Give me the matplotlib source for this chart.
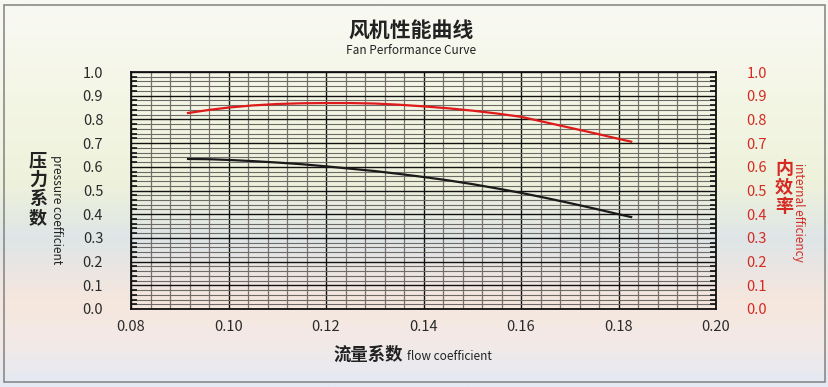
import numpy as np
import matplotlib.pyplot as plt
from matplotlib.colors import LinearSegmentedColormap
from matplotlib.patches import Rectangle

plt.rcParams['font.family'] = ['Noto Sans CJK SC', 'DejaVu Sans']

# data
flow = [0.0917, 0.096, 0.100, 0.105, 0.110, 0.115, 0.120, 0.125, 0.130, 0.135, 0.140,
        0.145, 0.150, 0.155, 0.160, 0.165, 0.170, 0.175, 0.180, 0.1826]
pressure = [0.633, 0.632, 0.629, 0.624, 0.618, 0.611, 0.602, 0.592, 0.582, 0.570, 0.557,
            0.543, 0.527, 0.509, 0.490, 0.469, 0.447, 0.424, 0.400, 0.388]
efficiency = [0.827, 0.840, 0.850, 0.859, 0.865, 0.868, 0.869, 0.869, 0.867, 0.862, 0.855,
              0.847, 0.837, 0.825, 0.811, 0.788, 0.765, 0.742, 0.718, 0.706]
xticks = [0.08, 0.10, 0.12, 0.14, 0.16, 0.18, 0.20]
yticks = [round(0.1 * i, 1) for i in range(11)]

W, H = 829, 387
fig = plt.figure(figsize=(W / 100, H / 100), dpi=100)

# background gradient
bg = fig.add_axes([0, 0, 1, 1], zorder=-10)
cmap = LinearSegmentedColormap.from_list('bg', [
    (0.0, '#f9f9f4'), (0.25, '#f4f6e5'), (0.47, '#eef2db'), (0.62, '#dfe5e7'),
    (0.78, '#f6e7dd'), (0.88, '#f3e9e6'), (1.0, '#e4eaf4')])
bg.imshow(np.linspace(0, 1, 200).reshape(-1, 1), aspect='auto', cmap=cmap,
          extent=[0, 1, 0, 1])
bg.add_patch(Rectangle((4 / W, 1 - 382 / H), 821 / W, 377 / H, fill=False,
                       ec='#8a8a8a', lw=1.2, transform=bg.transAxes))
bg.set_xlim(0, 1)
bg.set_ylim(0, 1)
bg.axis('off')

ax = fig.add_axes([131 / W, 1 - 309 / H, 585 / W, 237 / H])
ax.patch.set_alpha(0)
ax.set_xlim(0.08, 0.20)
ax.set_ylim(0, 1.0)

# grid
for v in np.arange(0.08, 0.2001, 0.004):
    major = abs(v / 0.02 - round(v / 0.02)) < 1e-6
    ax.axvline(v, color='#111111' if major else '#7a7070', lw=1.0 if major else 0.9, zorder=1)
for h in np.arange(0, 1.0001, 0.02):
    major = abs(h / 0.1 - round(h / 0.1)) < 1e-6
    ax.axhline(h, color='#111111' if major else '#6e6a66', lw=1.0 if major else 0.8, zorder=1)

ax.plot(flow, pressure, color='#1a1a1a', lw=1.6, zorder=3)
ax.plot(flow, efficiency, color='#e0191b', lw=1.6, zorder=3)

ax.set_xticks(xticks)
ax.set_xticklabels([f'{v:.2f}' for v in xticks])
ax.set_yticks(yticks)
ax.set_yticklabels([f'{v:.1f}' for v in yticks])
ax.set_yticks(np.arange(0, 1.0001, 0.02), minor=True)
ax.tick_params(axis='x', length=0, labelsize=10.5, pad=8, colors='#2a2a2a')
ax.tick_params(axis='y', which='major', length=0, labelsize=10.5, pad=20, colors='#2a2a2a')
ax.tick_params(axis='y', which='minor', direction='in', length=4, width=1.2, color='#111111')
for s in ax.spines.values():
    s.set_color('#111111')
    s.set_linewidth(1.3)

ax2 = ax.twinx()
ax2.set_ylim(0, 1.0)
ax2.set_yticks(yticks)
ax2.set_yticklabels([f'{v:.1f}' for v in yticks])
ax2.set_yticks(np.arange(0, 1.0001, 0.02), minor=True)
ax2.tick_params(axis='y', which='major', length=0, labelsize=10.5, pad=22, colors='#d42a22')
ax2.tick_params(axis='y', which='minor', direction='in', length=4, width=1.2, color='#111111')
for s in ax2.spines.values():
    s.set_visible(False)

# titles and labels
fig.text(411 / W, 1 - 31 / H, '风机性能曲线', ha='center', va='center', fontsize=15,
         color='#222222', fontweight='bold')
fig.text(411 / W, 1 - 51 / H, 'Fan Performance Curve', ha='center', va='center',
         fontsize=8.5, color='#222222')

fig.text(38 / W, 1 - 189 / H, '压\n力\n系\n数', ha='center', va='center', fontsize=13,
         color='#222222', fontweight='bold', linespacing=1.0)
fig.text(57 / W, 1 - 210 / H, 'pressure coefficient', ha='center', va='center',
         fontsize=8.5, rotation=-90, color='#222222')
fig.text(784 / W, 1 - 188 / H, '内\n效\n率', ha='center', va='center', fontsize=13,
         color='#d42a22', fontweight='bold', linespacing=1.0)
fig.text(799 / W, 1 - 212 / H, 'internal efficiency', ha='center', va='center',
         fontsize=8.5, rotation=-90, color='#d42a22')

fig.text(333 / W, 1 - 355 / H, '流量系数', ha='left', va='center', fontsize=12.5,
         color='#222222', fontweight='bold')
fig.text(407 / W, 1 - 356 / H, 'flow coefficient', ha='left', va='center',
         fontsize=8.5, color='#222222')

fig.savefig('out.png', dpi=100)
